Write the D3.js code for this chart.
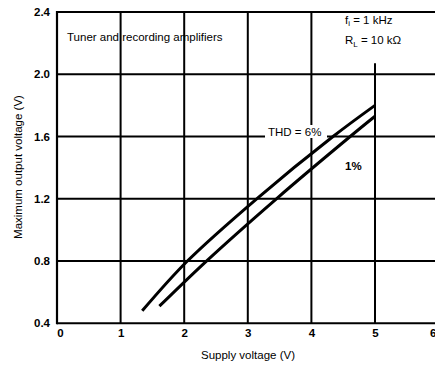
<!DOCTYPE html>
<html><head><meta charset="utf-8">
<script src="https://cdn.jsdelivr.net/npm/d3@7"></script>
<style>body{margin:0;background:#fff}svg{display:block}text{font-family:"Liberation Sans",Arial,sans-serif;fill:#000}</style>
</head><body><svg id="c" width="435" height="365"></svg>
<script>
const xTicks = [0,1,2,3,4,5,6];
const yTicks = [0.4,0.8,1.2,1.6,2.0,2.4];
const yTickLabels = ["0.4","0.8","1.2","1.6","2.0","2.4"];
const thd6X = [1.34,2.05,3.14,4.34,5.0];
const thd6Y = [0.48,0.80,1.20,1.60,1.80];
const thd1X = [1.61,2.35,3.45,4.61,5.0];
const thd1Y = [0.51,0.80,1.20,1.60,1.73];

const svg = d3.select("#c");
const x = d3.scaleLinear().domain([0,6]).range([57,438.6]);
const y = d3.scaleLinear().domain([0.4,2.4]).range([323.3,12]);
const FS = 11.5;

const g = svg.append("g");
xTicks.slice(1).forEach(t=>{
  const top = t===5 ? 2.07 : 2.4;
  g.append("line").attr("x1",x(t)).attr("x2",x(t)).attr("y1",y(0.4)).attr("y2",y(top))
   .attr("stroke","#000").attr("stroke-width",2);
});
yTicks.forEach(t=>{
  g.append("line").attr("x1",x(0)).attr("x2",x(6)).attr("y1",y(t)).attr("y2",y(t))
   .attr("stroke","#000").attr("stroke-width",2);
});
g.append("line").attr("x1",x(0)).attr("x2",x(0)).attr("y1",y(0.4)+1).attr("y2",y(2.4)-1)
 .attr("stroke","#000").attr("stroke-width",2.2);

const xa = svg.append("g").attr("transform",`translate(0,${y(0.4)})`)
  .call(d3.axisBottom(x).tickValues(xTicks).tickSize(0).tickPadding(6).tickFormat(d3.format("d")));
xa.select(".domain").remove();
xa.selectAll("text").attr("font-size",FS).attr("font-weight","bold").attr("font-family","Liberation Sans, Arial, sans-serif")
  .attr("dx",(d)=>d===0?3:(d===6?-6:0));
const ya = svg.append("g").attr("transform",`translate(${x(0)},0)`)
  .call(d3.axisLeft(y).tickValues(yTicks).tickSize(0).tickPadding(7).tickFormat((d,i)=>yTickLabels[i]));
ya.select(".domain").remove();
ya.selectAll("text").attr("font-size",FS).attr("font-weight","bold").attr("font-family","Liberation Sans, Arial, sans-serif");

const line = d3.line().x(d=>x(d[0])).y(d=>y(d[1])).curve(d3.curveCatmullRom.alpha(0.5));
svg.append("path").datum(thd6X.map((v,i)=>[v,thd6Y[i]])).attr("d",line)
  .attr("fill","none").attr("stroke","#000").attr("stroke-width",3);
svg.append("path").datum(thd1X.map((v,i)=>[v,thd1Y[i]])).attr("d",line)
  .attr("fill","none").attr("stroke","#000").attr("stroke-width",3);

const txt = (s,xx,yy,opts={})=>{
  const t = svg.append("text").attr("x",xx).attr("y",yy).attr("font-size",opts.fs||FS)
    .attr("text-anchor",opts.anchor||"start");
  if(opts.bold) t.attr("font-weight","bold");
  t.text(s); return t;
};
svg.append("rect").attr("x",265).attr("y",125).attr("width",62).attr("height",13).attr("fill","#fff");
txt("THD = 6%",268,136);
txt("1%",345,170,{bold:true});
txt("Tuner and recording amplifiers",67,41);
const f = svg.append("text").attr("x",345).attr("y",24).attr("font-size",FS);
f.append("tspan").text("f");
f.append("tspan").text("i").attr("font-size",8).attr("dy",2);
f.append("tspan").text(" = 1 kHz").attr("dy",-2);
const r = svg.append("text").attr("x",345).attr("y",44).attr("font-size",FS);
r.append("tspan").text("R");
r.append("tspan").text("L").attr("font-size",8).attr("dy",3);
r.append("tspan").text(" = 10 kΩ").attr("dy",-3);

txt("Supply voltage (V)",248,359,{anchor:"middle"});
svg.append("text").attr("transform","translate(22,167) rotate(-90)").attr("text-anchor","middle")
  .attr("font-size",FS).text("Maximum output voltage (V)");
</script></body></html>
